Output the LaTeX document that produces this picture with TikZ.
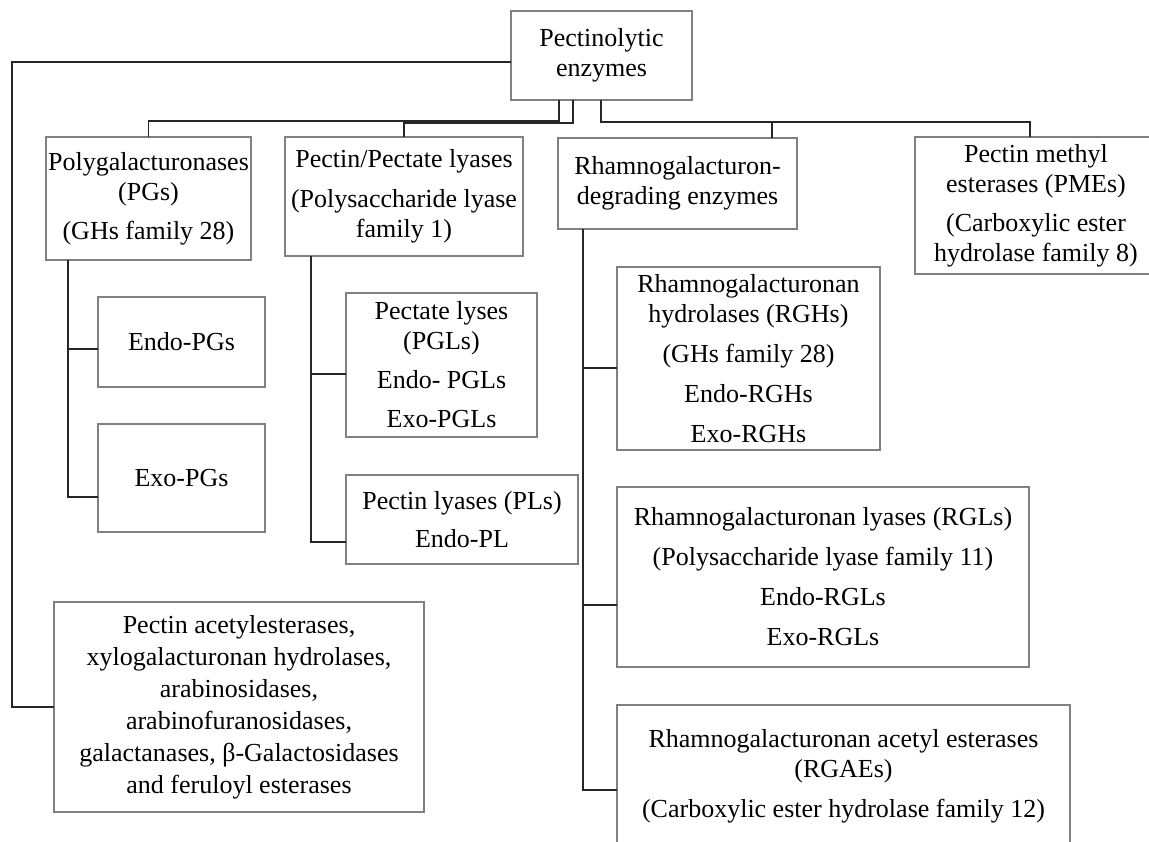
\documentclass[tikz,border=0pt]{standalone}
\usepackage{fontspec}
\setmainfont{Liberation Serif}
\tikzset{
  box/.style={draw=black!50, line width=1.2pt, align=center, inner sep=0pt,
              font=\fontsize{26}{30}\selectfont},
  conn/.style={draw=black!85, line width=1.9pt, line cap=rect},
}
\begin{document}
\begin{tikzpicture}[x=1pt,y=-1pt]
\useasboundingbox (0,0) rectangle (1149,841);
\fill[white] (0,0) rectangle (1149,841);
\clip (0,0) rectangle (1149,841);

% boxes
\node[box, minimum width=181, minimum height=89] (root) at (601.5,55.5) {Pectinolytic\\enzymes};
\node[box, minimum width=205, minimum height=123] (pg) at (148.5,198.5) {Polygalacturonases\\(PGs)\\[9pt](GHs family 28)};
\node[box, minimum width=238, minimum height=119] (ppl) at (404,196.5) {Pectin/Pectate lyases\\[10pt](Polysaccharide lyase\\family 1)};
\node[box, minimum width=239, minimum height=91] (rg) at (677.5,183.5) {Rhamnogalacturon-\\degrading enzymes};
\node[box, minimum width=242, minimum height=137] (pme) at (1036,205.5) {Pectin methyl\\esterases (PMEs)\\[9pt](Carboxylic ester\\hydrolase family 8)};

\node[box, minimum width=167, minimum height=90] (endopg) at (181.5,342) {Endo-PGs};
\node[box, minimum width=167, minimum height=108] (exopg) at (181.5,478) {Exo-PGs};

\node[box, minimum width=191, minimum height=144] (pgl) at (441.5,365) {Pectate lyses\\(PGLs)\\[9pt]Endo- PGLs\\[9pt]Exo-PGLs};
\node[box, minimum width=232, minimum height=89] (pl) at (462,519.5) {Pectin lyases (PLs)\\[8pt]Endo-PL};

\node[box, minimum width=263, minimum height=183] (rgh) at (748.5,358.5) {Rhamnogalacturonan\\hydrolases (RGHs)\\[10pt](GHs family 28)\\[10pt]Endo-RGHs\\[10pt]Exo-RGHs};
\node[box, minimum width=412, minimum height=180] (rgl) at (823,577) {Rhamnogalacturonan lyases (RGLs)\\[10pt](Polysaccharide lyase family 11)\\[10pt]Endo-RGLs\\[10pt]Exo-RGLs};
\node[box, minimum width=453, minimum height=142] (rgae) at (843.5,776) {Rhamnogalacturonan acetyl esterases\\(RGAEs)\\[10pt](Carboxylic ester hydrolase family 12)};

\node[box, minimum width=370, minimum height=210, font=\fontsize{26}{32}\selectfont] (pae) at (239,707) {Pectin acetylesterases,\\xylogalacturonan hydrolases,\\arabinosidases,\\arabinofuranosidases,\\galactanases, β-Galactosidases\\and feruloyl esterases};

% connectors from the root
\coordinate (lc) at (12,62);
\draw[conn] (root.west |- lc) -- (lc) |- (pae.west);

\coordinate (a1) at (559,121);
\draw[conn] (root.south -| a1) -- (a1) -| (pg.north);
\coordinate (a2) at (573,123);
\draw[conn] (root.south -| a2) -- (a2) -| (ppl.north);
\coordinate (a3) at (601,122);
\coordinate (a4) at (1030,122);
\draw[conn] (root.south -| a3) -- (a3) -- (a4) -- (a4 |- pme.north);
\coordinate (b3) at (772,122);
\draw[conn] (b3) -- (b3 |- rg.north);

% polygalacturonases children
\coordinate (c1a) at (68,349);
\coordinate (c1b) at (68,497);
\draw[conn] (pg.south -| c1b) -- (c1b) -- (c1b -| exopg.west);
\draw[conn] (c1a) -- (c1a -| endopg.west);

% pectin/pectate lyases children
\coordinate (c2a) at (311,374);
\coordinate (c2b) at (311,542);
\draw[conn] (ppl.south -| c2b) -- (c2b) -- (c2b -| pl.west);
\draw[conn] (c2a) -- (c2a -| pgl.west);

% rhamnogalacturonan-degrading children
\coordinate (c3a) at (583,368);
\coordinate (c3b) at (583,605);
\coordinate (c3c) at (583,790);
\draw[conn] (rg.south -| c3c) -- (c3c) -- (c3c -| rgae.west);
\draw[conn] (c3a) -- (c3a -| rgh.west);
\draw[conn] (c3b) -- (c3b -| rgl.west);
\end{tikzpicture}
\end{document}
